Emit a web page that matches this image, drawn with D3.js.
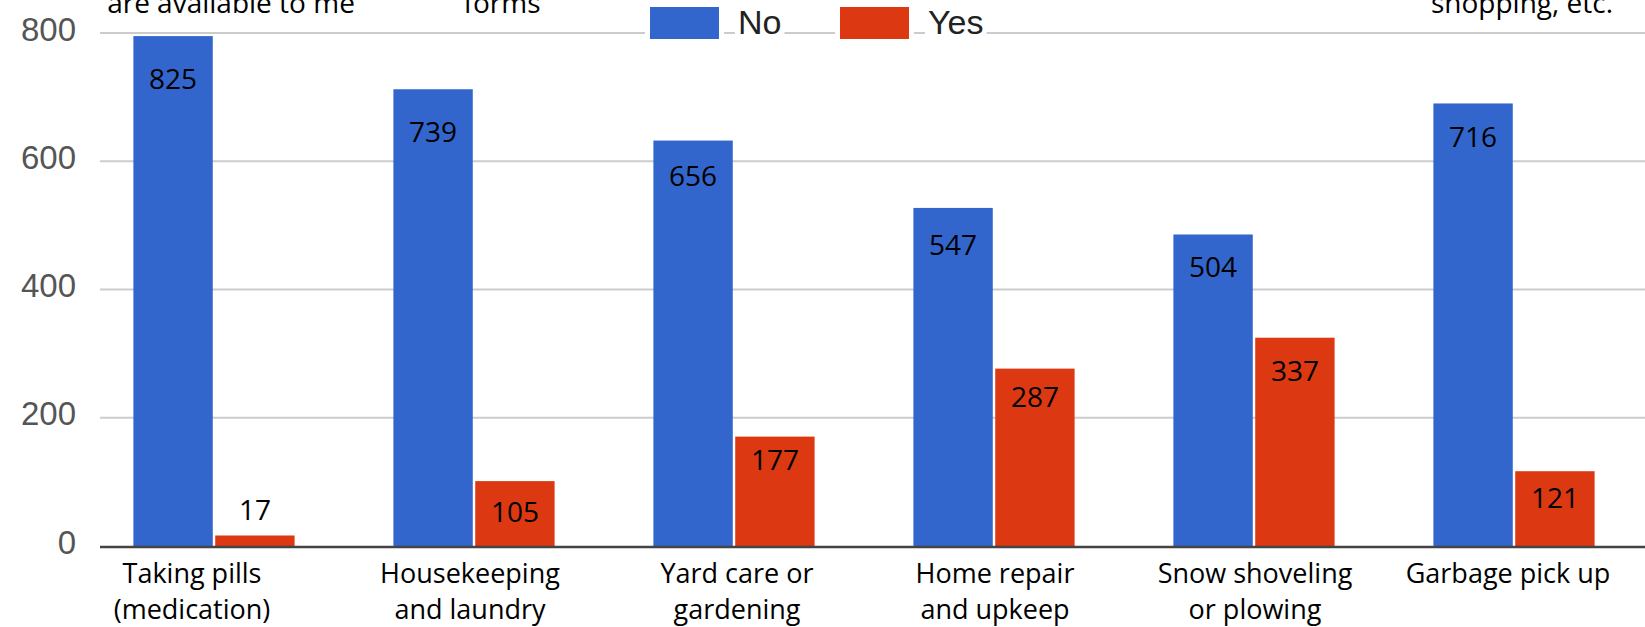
<!DOCTYPE html>
<html>
<head>
<meta charset="utf-8">
<script src="https://cdn.jsdelivr.net/npm/d3@7"></script>
<style>
  html, body { margin: 0; padding: 0; background: #fff; }
  svg { display: block; }
</style>
</head>
<body>
<svg id="chart" width="1645" height="627"></svg>
<script>
// ---------- data ----------
const categories = [
  ["Taking pills", "(medication)"],
  ["Housekeeping", "and laundry"],
  ["Yard care or", "gardening"],
  ["Home repair", "and upkeep"],
  ["Snow shoveling", "or plowing"],
  ["Garbage pick up"]
];
const seriesNames = ["No", "Yes"];
const noValues  = [825, 739, 656, 547, 504, 716];
const yesValues = [17, 105, 177, 287, 337, 121];
const yTicks = [0, 200, 400, 600, 800];
// cut-off header text remnants at the very top (category index, text)
const headerIdx = [0, 1, 5];
const headerText = ["are available to me", "forms", "shopping, etc."];

// ---------- layout ----------
const W = 1645, H = 627;
const plotLeft = 100, plotRight = 1645;
const yZero = 546, yTop = 33;
const colors = { "No": "#3366cc", "Yes": "#dc3912" };
// hand-placed label nudges seen in the source (pixels)
const labelDy = { "No": [9, 9, 1, 3, -1, 0], "Yes": [2, -3, -11, -6, -1, -7] };

const svg = d3.select("#chart");

const x0 = d3.scaleBand()
  .domain(d3.range(categories.length))
  .range([84, 1644])
  .paddingInner(0.38)
  .paddingOuter(0.19);
const x1 = d3.scaleBand()
  .domain(seriesNames)
  .range([0, x0.bandwidth()])
  .paddingInner(0.03);

// axis (gridline) scale
const yAxis = d3.scaleLinear().domain([0, 800]).range([yZero, yTop]);
// bars in the source picture are drawn slightly shorter than their labels
// relative to the gridlines; this scale reproduces that
const yBar = d3.scaleLinear().domain([0, 830]).range([yZero, yTop]);

// gridlines
svg.append("g").selectAll("line")
  .data(yTicks.filter(d => d !== 0))
  .join("line")
  .attr("x1", plotLeft).attr("x2", plotRight)
  .attr("y1", d => yAxis(d)).attr("y2", d => yAxis(d))
  .attr("stroke", "#cccccc").attr("stroke-width", 2);

// y tick labels
svg.append("g").selectAll("text")
  .data(yTicks)
  .join("text")
  .attr("x", 76)
  .attr("y", d => yAxis(d) - 4)
  .attr("dy", "0.35em")
  .attr("text-anchor", "end")
  .attr("font-family", "'Liberation Sans', Arial, sans-serif")
  .attr("font-size", 33)
  .attr("fill", "#555")
  .text(d => d);

// bars
const rows = categories.map((c, i) => ({ i, vals: [
  { key: "No", v: noValues[i], i },
  { key: "Yes", v: yesValues[i], i }
]}));

const groups = svg.append("g").selectAll("g")
  .data(rows)
  .join("g")
  .attr("transform", d => `translate(${x0(d.i)},0)`);

groups.selectAll("rect")
  .data(d => d.vals)
  .join("rect")
  .attr("x", d => x1(d.key))
  .attr("width", x1.bandwidth())
  .attr("y", d => Math.max(yTop + 2, yBar(d.v)))
  .attr("height", d => yZero - Math.max(yTop + 2, yBar(d.v)))
  .attr("fill", d => colors[d.key]);

// value labels
groups.selectAll("text.val")
  .data(d => d.vals)
  .join("text")
  .attr("class", "val")
  .attr("x", d => x1(d.key) + x1.bandwidth() / 2)
  .attr("y", d => {
    const top = Math.max(yTop + 2, yBar(d.v));
    const base = (yZero - top) < 60 ? top - 17 : top + 44;
    return base + labelDy[d.key][d.i];
  })
  .attr("text-anchor", "middle")
  .attr("font-family", "'Open Sans', 'Noto Sans', sans-serif")
  .attr("font-size", 28)
  .attr("fill", "#000")
  .text(d => d.v);

// x axis baseline
svg.append("line")
  .attr("x1", plotLeft).attr("x2", plotRight)
  .attr("y1", yZero + 1).attr("y2", yZero + 1)
  .attr("stroke", "#444").attr("stroke-width", 2.5);

// category labels
const catDx = [-22, -4, 3, 1, 1, -6];
svg.append("g").selectAll("text")
  .data(categories)
  .join("text")
  .attr("text-anchor", "middle")
  .attr("font-family", "'Open Sans', 'Noto Sans', sans-serif")
  .attr("font-size", 27)
  .attr("fill", "#000")
  .each(function(lines, i) {
    const cx = x0(i) + x0.bandwidth() / 2 + catDx[i];
    d3.select(this).selectAll("tspan")
      .data(lines)
      .join("tspan")
      .attr("x", cx)
      .attr("y", (l, j) => 583 + j * 36)
      .text(l => l);
  });

// header remnants (cut off at top)
const headerDx = [17, 28, 8];
svg.append("g").selectAll("text")
  .data(headerText)
  .join("text")
  .attr("x", (t, k) => x0(headerIdx[k]) + x0.bandwidth() / 2 + headerDx[k])
  .attr("y", 13)
  .attr("text-anchor", "middle")
  .attr("font-family", "'Open Sans', 'Noto Sans', sans-serif")
  .attr("font-size", 28)
  .attr("fill", "#000")
  .text(t => t);

// legend
const legendX = [650, 840];
const leg = svg.append("g").selectAll("g")
  .data(seriesNames)
  .join("g")
  .attr("transform", (d, i) => `translate(${legendX[i]},0)`);
leg.append("rect")
  .attr("x", -5).attr("y", 2).attr("width", 79).attr("height", 40)
  .attr("fill", "#fff");
leg.append("rect")
  .attr("x", 0).attr("y", 7).attr("width", 69).attr("height", 32)
  .attr("fill", d => colors[d]);
leg.each(function(d) {
  const g = d3.select(this);
  const t = g.append("text")
    .attr("x", 88).attr("y", 34)
    .attr("font-family", "'Liberation Sans', Arial, sans-serif")
    .attr("font-size", 34)
    .attr("fill", "#222")
    .text(d);
  const bb = t.node().getBBox();
  g.insert("rect", "text")
    .attr("x", bb.x - 3).attr("y", bb.y).attr("width", bb.width + 6).attr("height", bb.height)
    .attr("fill", "#fff");
});
</script>
</body>
</html>
